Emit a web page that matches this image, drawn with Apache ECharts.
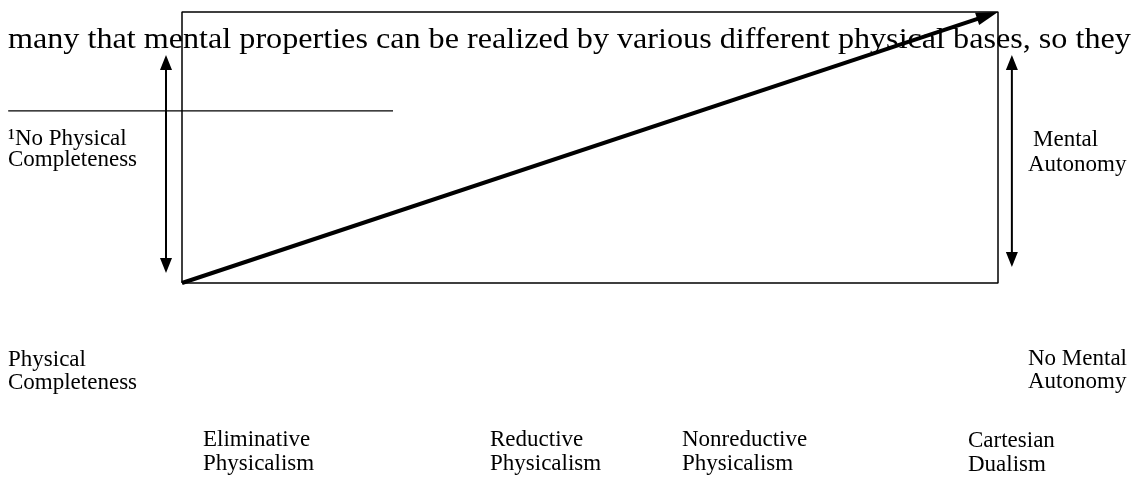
<!DOCTYPE html>
<html>
<head>
<meta charset="utf-8">
<script src="https://cdn.jsdelivr.net/npm/echarts@6/dist/echarts.min.js"></script>
<style>
html,body{margin:0;padding:0;background:#fff;}
#chart{width:1135px;height:478px;}
</style>
</head>
<body>
<div id="chart"></div>
<script>
// ---- data (diagram space: frame spans 0..1 on both axes) ----
const bodyLine = 'many that mental properties can be realized by various different physical bases, so they';
const leftTopLabel = ['\u00B9No Physical', 'Completeness'];
const rightTopLabel = ['Mental', 'Autonomy'];
const leftBottomLabel = ['Physical', 'Completeness'];
const rightBottomLabel = ['No Mental', 'Autonomy'];
const spectrumLabels = [
  ['Eliminative', 'Physicalism'],
  ['Reductive', 'Physicalism'],
  ['Nonreductive', 'Physicalism'],
  ['Cartesian', 'Dualism']
];
const frameCorners = [[0, 0], [1, 0], [1, 1], [0, 1], [0, 0]];
const diagonalArrow = [[0, 0, 1, 1]];
const physicalArrow = [[-0.0196, 0.037, -0.0196, 0.841]];
const mentalArrow = [[1.017, 0.059, 1.017, 0.841]];
const footnoteRule = [[-0.213, 0.635, 0.2586, 0.635]];

// ---- layout ----
const FONT = '"Liberation Serif","Times New Roman",serif';
function tb(baseline, fs, lh) { return baseline - 0.3375 * fs - lh / 2; }
function textEl(lines, x, baseline, fs, lh, sx) {
  return {
    type: 'text', z: 10,
    x: x, y: tb(baseline, fs, lh), scaleX: sx || 1,
    style: {
      text: lines.join('\n'), x: 0, y: 0,
      fontFamily: FONT, fontSize: fs, lineHeight: lh,
      fill: '#000', verticalAlign: 'top', align: 'left'
    }
  };
}
const spectrumX = [203, 490, 682, 968];
const spectrumBase = [448, 448, 448, 449];

function arrowRender(cfg) {
  return function (params, api) {
    const a = api.coord([api.value(0), api.value(1)]);
    const b = api.coord([api.value(2), api.value(3)]);
    const dx = b[0] - a[0], dy = b[1] - a[1];
    const len = Math.sqrt(dx * dx + dy * dy);
    const ux = dx / len, uy = dy / len;
    const nx = -uy, ny = ux;
    const children = [];
    let s = a.slice(), e = b.slice();
    function head(tip, dirx, diry) {
      const bx = tip[0] - dirx * cfg.headLen, by = tip[1] - diry * cfg.headLen;
      return {
        type: 'polygon',
        shape: { points: [tip, [bx + nx * cfg.headW / 2, by + ny * cfg.headW / 2], [bx - nx * cfg.headW / 2, by - ny * cfg.headW / 2]] },
        style: { fill: '#000' }
      };
    }
    if (cfg.start) { children.push(head(a, -ux, -uy)); s = [a[0] + ux * cfg.headLen * 0.8, a[1] + uy * cfg.headLen * 0.8]; }
    if (cfg.end) { children.push(head(b, ux, uy)); e = [b[0] - ux * cfg.headLen * 0.8, b[1] - uy * cfg.headLen * 0.8]; }
    children.unshift({
      type: 'line',
      shape: { x1: s[0], y1: s[1], x2: e[0], y2: e[1] },
      style: { stroke: '#000', lineWidth: cfg.width }
    });
    return { type: 'group', children: children };
  };
}

const chart = echarts.init(document.getElementById('chart'), null, { renderer: 'canvas' });
chart.setOption({
  backgroundColor: '#fff',
  animation: false,
  grid: { left: 182, right: 137, top: 12, bottom: 195, show: false },
  xAxis: { type: 'value', min: 0, max: 1, show: false },
  yAxis: { type: 'value', min: 0, max: 1, show: false },
  series: [
    { type: 'line', data: frameCorners, symbol: 'none', clip: false, silent: true,
      lineStyle: { color: '#000', width: 1.5 } },
    { type: 'custom', data: footnoteRule, clip: false, silent: true,
      renderItem: arrowRender({ width: 1.3, headLen: 0, headW: 0, start: false, end: false }) },
    { type: 'custom', data: diagonalArrow, clip: false, silent: true,
      renderItem: arrowRender({ width: 4, headLen: 22, headW: 13, start: false, end: true }) },
    { type: 'custom', data: physicalArrow, clip: false, silent: true,
      renderItem: arrowRender({ width: 2, headLen: 15, headW: 12, start: true, end: true }) },
    { type: 'custom', data: mentalArrow, clip: false, silent: true,
      renderItem: arrowRender({ width: 2, headLen: 15, headW: 12, start: true, end: true }) }
  ],
  graphic: [
    textEl([bodyLine], 8, 50, 30, 32, 1.072),
    textEl(leftTopLabel, 8, 147, 23, 21),
    textEl([rightTopLabel[0]], 1033, 148, 23, 25),
    textEl([rightTopLabel[1]], 1028, 173, 23, 25),
    textEl(leftBottomLabel, 8, 368, 23, 23),
    textEl(rightBottomLabel, 1028, 367, 23, 23)
  ].concat(spectrumLabels.map(function (l, i) {
    return textEl(l, spectrumX[i], spectrumBase[i], 23, 24);
  }))
});
</script>
</body>
</html>
